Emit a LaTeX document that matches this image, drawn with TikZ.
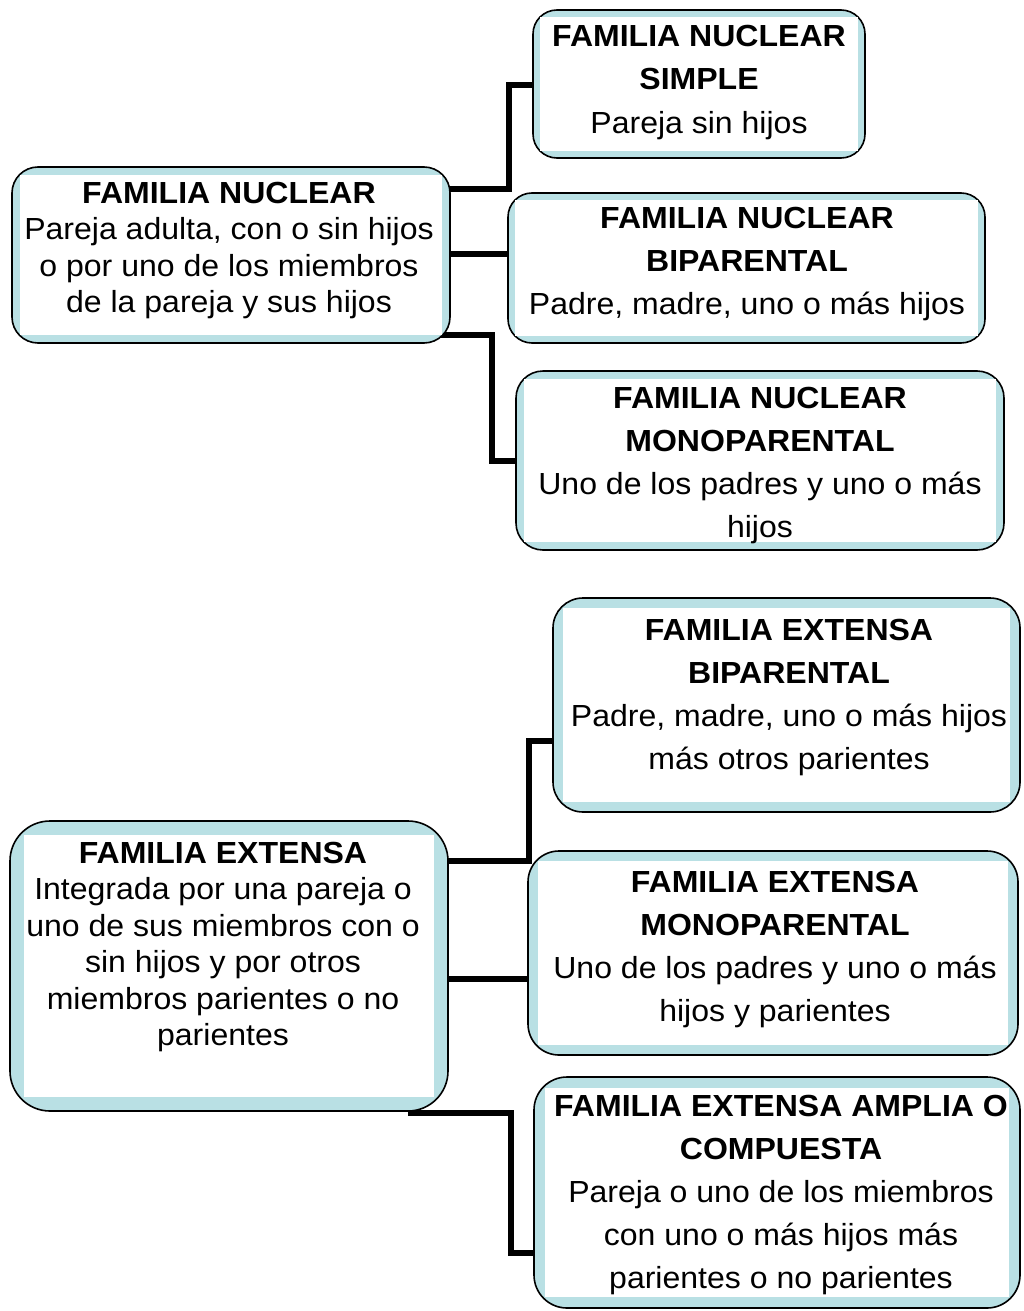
\documentclass[tikz,border=0pt]{standalone}
\usepackage{fontspec}
\setmainfont{Liberation Sans}[FakeStretch=1.05]
\usetikzlibrary{backgrounds,calc}
\definecolor{band}{RGB}{185,224,228}
\tikzset{
  famframe/.style={draw=black, line width=1.6pt, fill=band, inner sep=0pt, outer sep=0pt},
  conn/.style={draw=black, line width=6pt},
  lefttxt/.style={anchor=base, inner sep=0pt, align=center, font=\fontsize{30.5}{36.5}\selectfont},
  righttxt/.style={anchor=base, inner sep=0pt, align=center, font=\fontsize{30.5}{43}\selectfont},
}
% name, x1, y1, x2, y2, radius, inset
\newcommand{\famBox}[7]{%
  \node[famframe, rounded corners=#6pt, minimum width={#4-#2}, minimum height={#5-#3}] (#1) at ({(#2+#4)/2},{(#3+#5)/2}) {};
  \fill[white] ([shift={(#7,#7)}]#1.north west) rectangle ([shift={(-#7,-#7)}]#1.south east);
}
\begin{document}
\begin{tikzpicture}[x=1pt,y=-1pt]
\useasboundingbox (0,0) rectangle (1023,1311);

% boxes
\famBox{N}{12}{167}{450}{343}{26}{8}
\famBox{NS}{533}{10}{865}{158}{24}{7}
\famBox{NB}{508}{193}{985}{343}{24}{7}
\famBox{NM}{516}{371}{1004}{550}{27}{8}
\famBox{E}{10}{821}{448}{1111}{40}{14}
\famBox{EB}{553}{598}{1020}{812}{30}{10}
\famBox{EM}{528}{851}{1018}{1055}{31}{10}
\famBox{EA}{534}{1077}{1020}{1308}{33}{11}

% texts (anchor = baseline of the last line)
\node[lefttxt] (Nt) at (229,312.5) {\textbf{FAMILIA NUCLEAR}\\Pareja adulta, con o sin hijos\\o por uno de los miembros\\de la pareja y sus hijos};
\node[righttxt] (NSt) at (699,133) {\textbf{FAMILIA NUCLEAR}\\\textbf{SIMPLE}\\Pareja sin hijos};
\node[righttxt] (NBt) at (747,314) {\textbf{FAMILIA NUCLEAR}\\\textbf{BIPARENTAL}\\Padre, madre, uno o más hijos};
\node[righttxt] (NMt) at (760,537) {\textbf{FAMILIA NUCLEAR}\\\textbf{MONOPARENTAL}\\Uno de los padres y uno o más\\hijos};
\node[lefttxt] (Et) at (223,1045.5) {\textbf{FAMILIA EXTENSA}\\Integrada por una pareja o\\uno de sus miembros con o\\sin hijos y por otros\\miembros parientes o no\\parientes};
\node[righttxt] (EBt) at (789,769) {\textbf{FAMILIA EXTENSA}\\\textbf{BIPARENTAL}\\Padre, madre, uno o más hijos\\más otros parientes};
\node[righttxt] (EMt) at (775,1021) {\textbf{FAMILIA EXTENSA}\\\textbf{MONOPARENTAL}\\Uno de los padres y uno o más\\hijos y parientes};
\node[righttxt] (EAt) at (781,1288) {\textbf{FAMILIA EXTENSA AMPLIA O}\\\textbf{COMPUESTA}\\Pareja o uno de los miembros\\con uno o más hijos más\\parientes o no parientes};

% connectors
\begin{scope}[on background layer]
\draw[conn] (N.center |- 0,189) -- (509,189) |- (NS.center |- 0,85);
\draw[conn] (N.center |- 0,254) -- (NB.center |- 0,254);
\draw[conn] (N.center |- 0,335) -- (492,335) |- (NM.center |- 0,461);
\draw[conn] (E.center |- 0,861) -- (529,861) |- (EB.center |- 0,741);
\draw[conn] (E.center |- 0,979) -- (EM.center |- 0,979);
\draw[conn] ($(E.south east)+(-40,2)$) -- (511,1113) |- (EA.center |- 0,1253);
\end{scope}
\end{tikzpicture}
\end{document}
